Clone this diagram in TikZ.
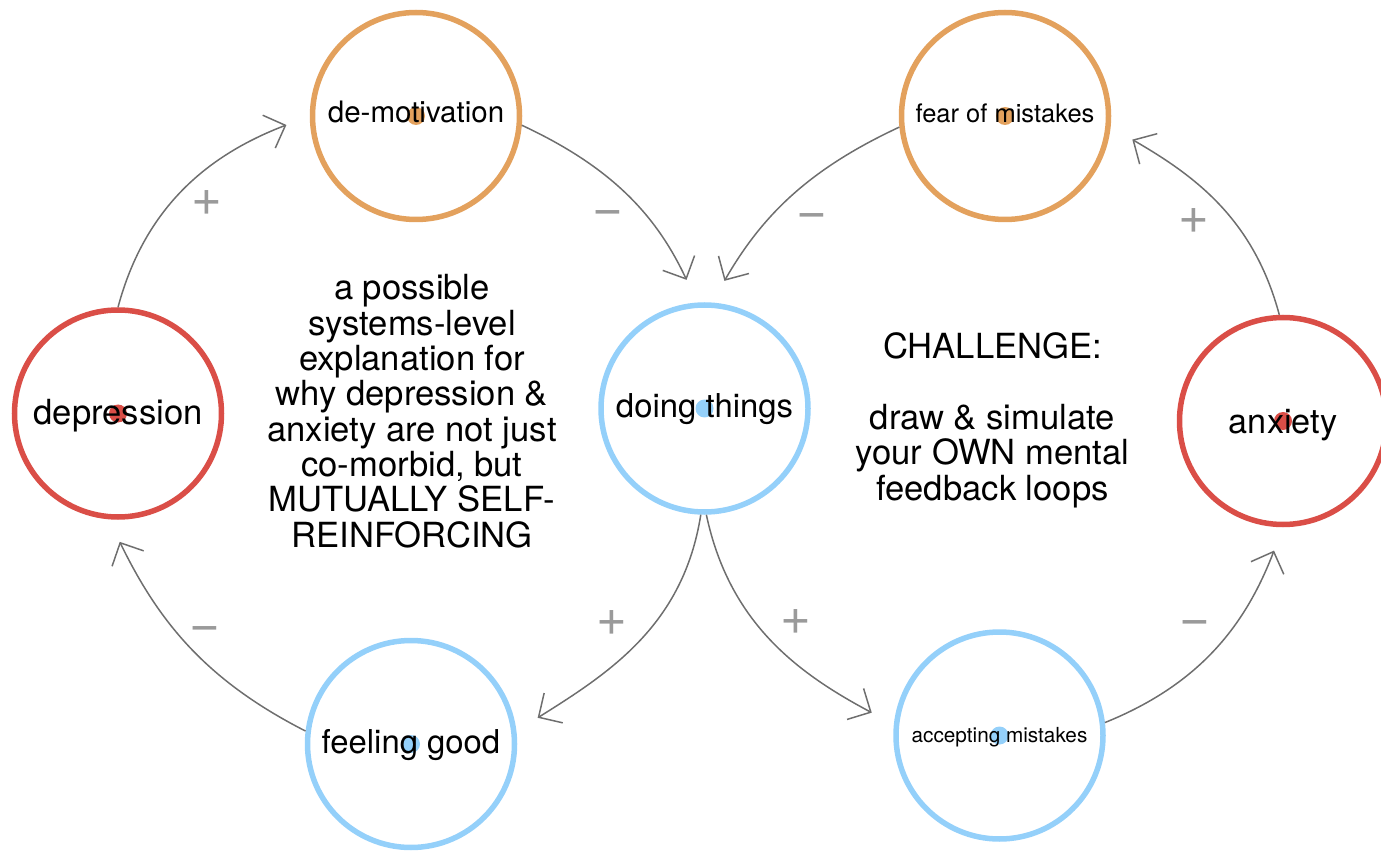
\documentclass[tikz,border=0pt]{standalone}
\usepackage{fontspec}
\setmainfont{TeX Gyre Heros}
\usetikzlibrary{arrows.meta}

\definecolor{loopred}{HTML}{DA4E47}
\definecolor{loopblue}{HTML}{94D0FA}
\definecolor{looporange}{HTML}{E3A15D}
\definecolor{linkgray}{HTML}{6E6E6E}
\definecolor{signgray}{HTML}{9A9A9A}

\tikzset{
  concept/.style={circle, draw=#1, line width=0.11cm, minimum size=4.14cm, inner sep=0pt},
  hub/.style={circle, fill=#1, inner sep=0pt, minimum size=0.36cm},
  conceptname/.style={anchor=base, inner sep=0pt},
  link/.style={draw=linkgray, line width=0.85pt, shorten >=0.5cm,
    -{Straight Barb[length=10pt,width=20pt]}},
  sign/.style={text=signgray, font=\fontsize{30}{30}\selectfont, inner sep=0pt,
    text height=15pt, text depth=0pt},
  blurb/.style={align=center, font=\fontsize{19.7}{20.1}\selectfont, inner sep=0pt, anchor=base},
}

\begin{document}
\begin{tikzpicture}
  \useasboundingbox (0,0) rectangle (27.62,17.02);

  % left loop
  \node[concept=loopred]    (dep)    at (2.36,8.75)  {};
  \node[concept=looporange] (demot)  at (8.32,14.70) {};
  \node[concept=loopblue]   (doing)  at (14.09,8.85) {};
  \node[concept=loopblue]   (feel)   at (8.22,2.14)  {};
  % right loop
  \node[concept=looporange] (fear)   at (20.10,14.70) {};
  \node[concept=loopred]    (anx)    at (25.66,8.60)  {};
  \node[concept=loopblue]   (accept) at (19.99,2.31)  {};

  % dots sit behind the names
  \foreach \n/\c in {dep/loopred, demot/looporange, doing/loopblue, feel/loopblue,
                     fear/looporange, anx/loopred, accept/loopblue}
    \node[hub=\c] (\n-dot) at (\n.center) {};

  \node[conceptname, font=\fontsize{19.7}{20}\selectfont] (dep-txt)    at ([yshift=-0.23cm]dep.center)    {depression};
  \node[conceptname, font=\fontsize{16.8}{17}\selectfont] (demot-txt)  at ([yshift=-0.14cm]demot.center)  {de-motivation};
  \node[conceptname, font=\fontsize{18.7}{19}\selectfont] (doing-txt)  at ([yshift=-0.18cm]doing.center)  {doing things};
  \node[conceptname, font=\fontsize{18.7}{19}\selectfont] (feel-txt)   at ([yshift=-0.18cm]feel.center)   {feeling good};
  \node[conceptname, font=\fontsize{14.5}{15}\selectfont] (fear-txt)   at ([yshift=-0.14cm]fear.center)   {fear of mistakes};
  \node[conceptname, font=\fontsize{19.5}{20}\selectfont] (anx-txt)    at ([yshift=-0.24cm]anx.center)    {anxiety};
  \node[conceptname, font=\fontsize{11.8}{12}\selectfont] (accept-txt) at ([yshift=-0.13cm]accept.center) {accepting mistakes};

  % feedback links
  \draw[link] (dep.90)    to[out=75,in=201]  (demot.180);
  \draw[link] (demot.-5)  to[out=-25,in=115] (doing.94);
  \draw[link] (fear.186)  to[out=205,in=60]  (doing.86);
  \draw[link] (anx.92)    to[out=105,in=-30] (fear.-6);
  \draw[link] (doing.268) to[out=261,in=32]  (feel.7);
  \draw[link] (doing.271) to[out=282,in=152] (accept.174);
  \draw[link] (feel.173)  to[out=153,in=-64] (dep.265);
  \draw[link] (accept.7)  to[out=22,in=249]  (anx.270);

  \node[sign] (s1) at (4.14,12.98)  {+};
  \node[sign] (s2) at (12.16,12.78) {−};
  \node[sign] (s3) at (16.24,12.72) {−};
  \node[sign] (s4) at (23.88,12.62) {+};
  \node[sign] (s5) at (12.24,4.58)  {+};
  \node[sign] (s6) at (15.92,4.60)  {+};
  \node[sign] (s7) at (4.10,4.46)   {−};
  \node[sign] (s8) at (23.90,4.58)  {−};

  % base is the last line here
  \node[blurb] (why) at (8.24,6.08) {a possible\\systems-level\\explanation for\\why depression \&\\anxiety are not just\\co-morbid, but\\MUTUALLY SELF-\\REINFORCING};
  \node[blurb] (challenge) at (19.85,7.02) {CHALLENGE:\\[20.1pt]draw \& simulate\\your OWN mental\\feedback loops};
\end{tikzpicture}
\end{document}
